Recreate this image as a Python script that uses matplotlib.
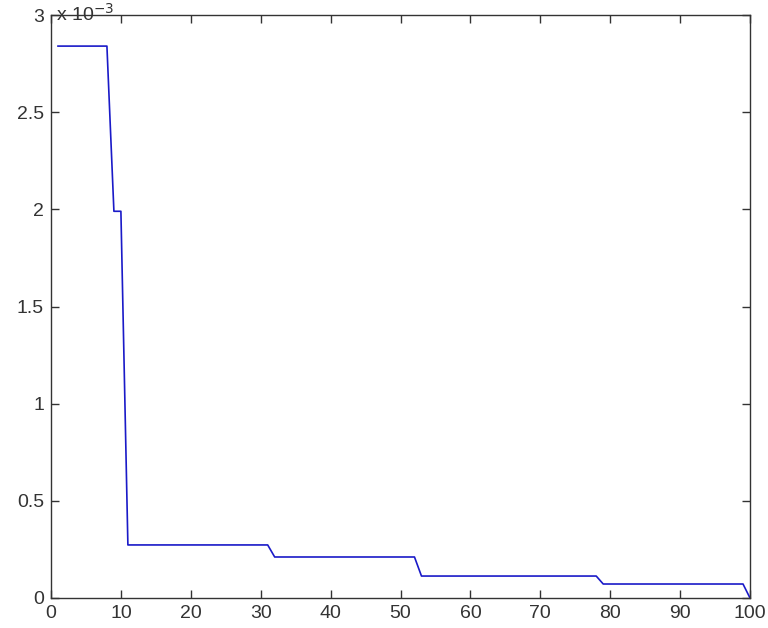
import matplotlib
matplotlib.use("Agg")
import matplotlib.pyplot as plt
from matplotlib.ticker import FuncFormatter

# Breakpoints of the curve (x index, value)
x_vals = [1, 8, 9, 10, 11, 31, 32, 52, 53, 78, 79, 99, 100]
y_vals = [2.84e-3, 2.84e-3, 1.99e-3, 1.99e-3, 0.273e-3, 0.273e-3, 0.211e-3,
          0.211e-3, 0.113e-3, 0.113e-3, 0.072e-3, 0.072e-3, 0.0]

x_ticks = [0, 10, 20, 30, 40, 50, 60, 70, 80, 90, 100]
y_ticks = [0, 0.5e-3, 1.0e-3, 1.5e-3, 2.0e-3, 2.5e-3, 3.0e-3]

plt.rcParams['font.family'] = ['Liberation Sans', 'DejaVu Sans']

fig = plt.figure(figsize=(7.68, 6.28), dpi=100)
ax = fig.add_axes([51/768, 30/628, 699/768, 583/628])
ax.plot(x_vals, y_vals, color='#1a1ac8', lw=1.2)

ax.set_xlim(0, 100)
ax.set_ylim(0, 3e-3)
ax.set_xticks(x_ticks)
ax.set_yticks(y_ticks)
ax.yaxis.set_major_formatter(FuncFormatter(lambda v, p: f"{v*1e3:g}"))
ax.tick_params(direction='in', length=6, width=1, top=True, right=True,
               labelsize=14, colors='#333333', pad=5)
for s in ax.spines.values():
    s.set_color('#333333')
    s.set_linewidth(1.0)

fig.text(56/768, 1 - 14/628, r"x 10$^{-3}$", fontsize=14, color='#333333',
         ha='left', va='center')

fig.savefig("out.png", dpi=100)
